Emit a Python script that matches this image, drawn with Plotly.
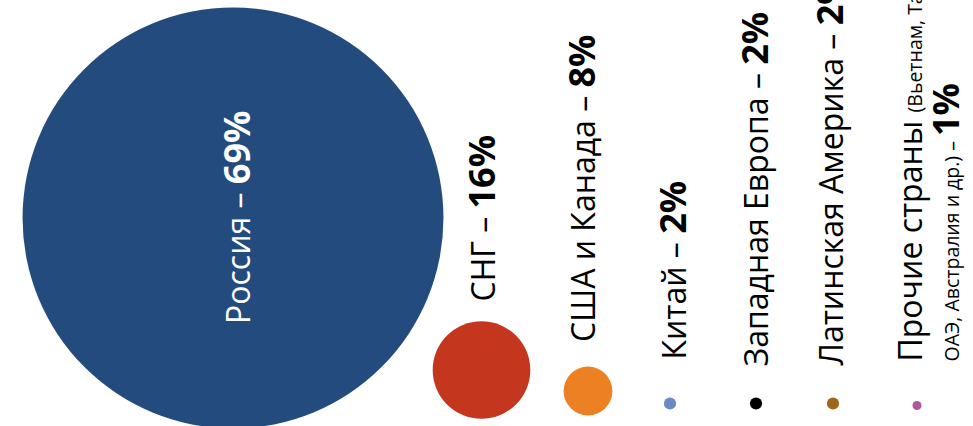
import plotly.graph_objects as go

# ---- data ----
regions = ["Россия", "СНГ", "США и Канада", "Китай", "Западная Европа",
           "Латинская Америка", "Прочие страны"]
shares = [69, 16, 8, 2, 2, 2, 1]
others_note_1 = "(Вьетнам, Таиланд,"
others_note_2 = "ОАЭ, Австралия и др.)"
colors = ["#234B7E", "#C4361E", "#EC8022", "#6B8AC4", "#000000", "#A0661C", "#B0579A"]

# ---- layout helpers (pixel-like plot units) ----
x_pos = [233, 481.5, 588, 670, 756, 833, 917]
y_pos = [218, 370, 391, 403.5, 403.5, 403.5, 405.5]
diam = [max(6.1 * v, 9) for v in shares]

FONT = "Open Sans"
REG = 32
BIG = 36
SMALL = 19.5

fig = go.Figure()
fig.add_trace(go.Scatter(
    x=x_pos, y=y_pos, mode="markers",
    marker=dict(size=diam, sizemode="diameter", color=colors, line=dict(width=0), opacity=1),
    hoverinfo="text", text=[f"{r} – {s}%" for r, s in zip(regions, shares)],
    showlegend=False,
))

def pct(v):
    return f"<b><span style='font-size:{BIG}px'>{v}%</span></b>"

# label positions: (x center of text column, bottom of text)
label_x = [236, 481, 581, 672, 754, 829, 929]
label_y = [218, 304, 344, 362, 369, 368, 364]

ann = []
# Russia label inside the bubble
ann.append(dict(x=label_x[0], y=label_y[0], text=f"{regions[0]} – {pct(shares[0])}",
                textangle=-90, xanchor="center", yanchor="middle", showarrow=False,
                font=dict(family=FONT, size=REG, color="white")))
for i in range(1, 6):
    ann.append(dict(x=label_x[i], y=label_y[i], text=f"{regions[i]} – {pct(shares[i])}",
                    textangle=-90, xanchor="center", yanchor="bottom", showarrow=False,
                    font=dict(family=FONT, size=REG, color="black")))
others_text = (f"<span style='font-size:{REG}px'>{regions[6]} </span>"
               f"<span style='font-size:{SMALL}px'>{others_note_1}</span><br>"
               f"<span style='font-size:{SMALL}px'>{others_note_2} – </span>{pct(shares[6])}")
ann.append(dict(x=label_x[6], y=label_y[6], text=others_text, align="left",
                textangle=-90, xanchor="center", yanchor="bottom", showarrow=False,
                font=dict(family=FONT, size=29, color="black")))

fig.update_layout(
    width=973, height=426,
    margin=dict(l=0, r=0, t=0, b=0),
    paper_bgcolor="white", plot_bgcolor="white",
    xaxis=dict(range=[0, 973], visible=False, fixedrange=True),
    yaxis=dict(range=[426, 0], visible=False, fixedrange=True),
    annotations=ann,
    font=dict(family=FONT),
)
fig.write_html("out.html", config={"displayModeBar": False},
               post_script="document.body.style.margin='0';")
